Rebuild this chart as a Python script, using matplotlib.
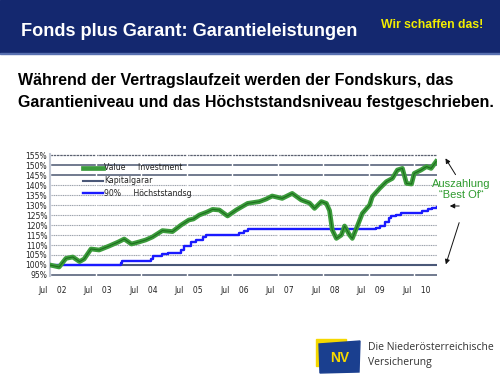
import matplotlib
matplotlib.use('Agg')
import matplotlib.pyplot as plt
from matplotlib.patches import Rectangle, Polygon, FancyArrowPatch

plt.rcParams['font.family'] = ['Liberation Sans', 'DejaVu Sans']

# data (x in fractional years)
value_t = [2002.45, 2002.55, 2002.65, 2002.8, 2002.95, 2003.1, 2003.2, 2003.35, 2003.53,
           2003.75, 2003.95, 2004.08, 2004.24, 2004.4, 2004.55, 2004.7, 2004.92, 2005.14,
           2005.33, 2005.5, 2005.6, 2005.73, 2005.9, 2006.02, 2006.17, 2006.35, 2006.54,
           2006.79, 2007.05, 2007.2, 2007.33, 2007.55, 2007.77, 2007.97, 2008.15, 2008.26,
           2008.41, 2008.52, 2008.59, 2008.65, 2008.74, 2008.85, 2008.92, 2009.03, 2009.09,
           2009.18, 2009.31, 2009.47, 2009.53, 2009.69, 2009.84, 2009.97, 2010.08, 2010.19,
           2010.28, 2010.39, 2010.45, 2010.6, 2010.72, 2010.82, 2010.93]
value_inv = [100, 99.5, 99, 103.3, 104, 101.7, 103, 108, 107.5, 109.5, 111.5, 113, 110.5,
             111.5, 112.5, 114, 117.2, 116.7, 120, 122.5, 123, 125, 126.5, 127.8, 127.5,
             124.5, 127.5, 130.8, 131.7, 133, 134.5, 133.3, 135.8, 132.5, 131, 128.3, 131.7,
             130.8, 127.2, 117.5, 113.3, 115, 119.5, 115, 113.3, 118.3, 125.8, 130, 134.2,
             138.3, 141.7, 143.3, 147.5, 148.3, 140.8, 140.5, 145.8, 147.5, 149.2, 148.3, 151.7]

hss_t = [2002.45, 2004.0, 2004.03, 2004.67, 2004.72, 2004.9, 2005.05, 2005.32, 2005.4,
         2005.55, 2005.65, 2005.8, 2005.87, 2006.6, 2006.7, 2006.8, 2009.62, 2009.7, 2009.8,
         2009.9, 2009.95, 2010.05, 2010.15, 2010.62, 2010.75, 2010.85, 2010.95]
hss = [100, 101, 102, 103, 104.5, 105.5, 106.2, 107.5, 109.5, 111.5, 112.5, 114, 115, 116,
       117, 117.8, 118.5, 119.5, 121.5, 123.5, 124.5, 125.2, 126, 127, 127.8, 128.5, 129.2]

kap_t = [2002.45, 2010.95]
kap = [100, 100]

tick_pos = [2002.5 + i for i in range(9)]
tick_lab = ['Jul    %02d' % (2 + i) for i in range(9)]
y_ticks = list(range(95, 160, 5))

fig = plt.figure(figsize=(5, 3.75), dpi=100)

def px(x, y):
    return x / 500, 1 - y / 375

# header banner
fig.patches.append(Rectangle(px(0, 53), 1, 53 / 375, transform=fig.transFigure,
                             color='#14286f', zorder=0))
fig.patches.append(Rectangle(px(0, 54), 1, 1.5 / 375, transform=fig.transFigure,
                             color='#5870b0', zorder=0))
fig.text(*px(21, 31), 'Fonds plus Garant: Garantieleistungen', color='white',
         fontsize=13.1, fontweight='bold', va='center')
fig.text(*px(432, 25), 'Wir schaffen das!', color='#f2ee00', fontsize=8.8,
         fontweight='bold', va='center', ha='center')
fig.text(*px(18, 80), 'Während der Vertragslaufzeit werden der Fondskurs, das',
         fontsize=11.5, fontweight='bold', va='center')
fig.text(*px(18, 103), 'Garantieniveau und das Höchststandsniveau festgeschrieben.',
         fontsize=11.5, fontweight='bold', va='center')

ax = fig.add_axes([50 / 500, 1 - 276 / 375, 387 / 500, 122 / 375])
ax.set_xlim(2002.45, 2010.95)
ax.set_ylim(94.5, 155.5)

for y in y_ticks:
    if y in (95, 145, 150):
        ax.axhline(y, color='#4a5670', lw=1.1, zorder=1)
    elif y == 155:
        ax.axhline(y, color='#5a6070', lw=0.9, ls=(0, (2, 0.6)), zorder=1)
    elif y != 100:
        ax.axhline(y, color='#9aa0aa', lw=0.8, ls=(0, (1, 0.6)), zorder=1)
for t in tick_pos:
    ax.axvline(t - 0.05, color='white', lw=1.0, zorder=1.5)

ax.plot(value_t, value_inv, color='#3c9c3c', lw=3.4, zorder=3, solid_joinstyle='round',
        label='Value     Investment')
ax.plot(value_t, value_inv, color='#1d6e1d', lw=0.8, zorder=3.5)
ax.plot(kap_t, kap, color='#4a5878', lw=1.5, zorder=2, label='Kapitalgarar')
ax.plot(hss_t, hss, color='#1a1aff', lw=1.7, drawstyle='steps-post', zorder=2.5,
        label='90%     Höchststandsg')

ax.set_xticks(tick_pos)
ax.set_xticklabels(tick_lab, family='DejaVu Sans', fontsize=5.5, color='#222222')
ax.set_yticks(y_ticks)
ax.set_yticklabels(['%d%%' % v for v in y_ticks], family='DejaVu Sans', fontsize=5.5,
                   color='#222222')
ax.tick_params(length=0, pad=2)
ax.tick_params(axis='x', pad=7)
for s in ('top', 'right', 'bottom'):
    ax.spines[s].set_visible(False)
ax.spines['left'].set_color('#c4cad6')
ax.spines['left'].set_linewidth(1.5)

leg = ax.legend(loc='upper left', bbox_to_anchor=(0.075, 0.955), frameon=False,
                handlelength=2.6, handletextpad=0.1, labelspacing=0.5,
                borderpad=0, prop={'family': 'DejaVu Sans', 'size': 5.6})
for t in leg.get_texts():
    t.set_color('#222222')

# annotation on the right
fig.text(*px(461, 184), 'Auszahlung', color='#2e9b2e', fontsize=8, ha='center', va='center')
fig.text(*px(461, 195), '\u201cBest Of\u201c', color='#2e9b2e', fontsize=8, ha='center',
         va='center')
arrow = dict(arrowstyle='-|>', color='#111111', lw=0.7, mutation_scale=7)
for (x0, y0), (x1, y1) in [((457, 177), (444, 156)), ((462, 206), (447, 206)),
                           ((460, 220), (445, 267))]:
    fig.add_artist(FancyArrowPatch(px(x0, y0), px(x1, y1),
                                   transform=fig.transFigure, **arrow))

# logo
fig.patches.append(Polygon([px(316, 339), px(346, 339), px(346, 366), px(316, 366)],
                           closed=True, transform=fig.transFigure, color='#f5d800'))
fig.patches.append(Polygon([px(319, 344), px(360, 341), px(359, 372), px(320, 373)],
                           closed=True, transform=fig.transFigure, color='#1a3f8f'))
fig.text(*px(340, 358), 'NV', color='#f5d800', fontsize=10, fontweight='bold',
         ha='center', va='center')
fig.text(*px(368, 348), 'Die Niederösterreichische', color='#333333', fontsize=7.5,
         family='Open Sans', va='center')
fig.text(*px(368, 362), 'Versicherung', color='#333333', fontsize=7.5,
         family='Open Sans', va='center')

fig.savefig('out.png', dpi=100)
